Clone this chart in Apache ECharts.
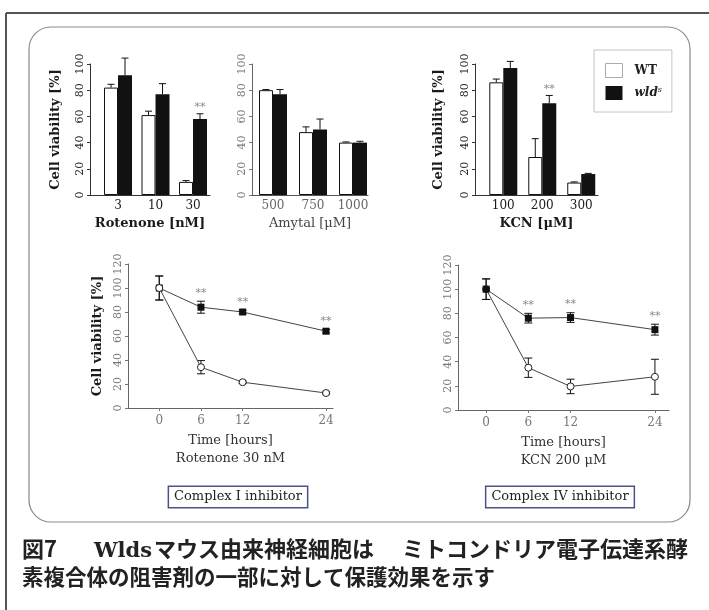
<!DOCTYPE html>
<html>
<head>
<meta charset="utf-8">
<script src="https://cdn.jsdelivr.net/npm/echarts@6/dist/echarts.min.js"></script>
<style>
  html, body { margin: 0; padding: 0; background: #ffffff; }
  #chart { width: 709px; height: 610px; }
</style>
</head>
<body>
<div id="chart"></div>
<script>
// ---- Dose-response panels (cell viability, %) ----
const rotenoneDoses = ['3', '10', '30'];
const rotenoneWT = [82, 61, 10];
const rotenoneWTErr = [2.5, 3, 1];
const rotenoneWld = [91.5, 77, 58];
const rotenoneWldErr = [13, 8, 4];
const rotenoneSig = ['', '', '**'];

const amytalDoses = ['500', '750', '1000'];
const amytalWT = [80, 48, 40];
const amytalWTErr = [0.5, 4, 0.5];
const amytalWld = [77, 50, 40];
const amytalWldErr = [3.5, 8, 1];

const kcnDoses = ['100', '200', '300'];
const kcnWT = [86, 29, 9.5];
const kcnWTErr = [2.5, 14, 0.5];
const kcnWld = [97, 70, 16];
const kcnWldErr = [5, 6, 0.5];
const kcnSig = ['', '**', ''];

// ---- Time-course panels ----
const hours = [0, 6, 12, 24];
const hourTicks = [0, 6, 12, 24];

const rotTimeWT = [100, 34, 21.5, 12.5];
const rotTimeWTErr = [10, 5.5, 1, 1];
const rotTimeWld = [100, 84, 80, 64];
const rotTimeWldErr = [10, 5, 1.5, 1.5];
const rotTimeSig = ['', '**', '**', '**'];

const kcnTimeWT = [100, 35, 19.5, 27.5];
const kcnTimeWTErr = [8.5, 8, 6, 14.5];
const kcnTimeWld = [100, 76, 76.5, 66.5];
const kcnTimeWldErr = [8.5, 4, 4, 4.5];
const kcnTimeSig = ['', '**', '**', '**'];

// ---- Caption ----
const captionHead = '図7';
const captionStrain = 'Wlds';
const captionLine1a = 'マウス由来神経細胞は';
const captionLine1b = 'ミトコンドリア電子伝達系酵';
const captionLine2 = '素複合体の阻害剤の一部に対して保護効果を示す';

const SERIF = '"DejaVu Serif", "Liberation Serif", serif';
const CJK = '"Noto Sans CJK JP", sans-serif';
const BAR_W = 14;

// category slots 1..n on a value axis so bar groups can sit off-centre in the grid
const slots = arr => arr.map((_, i) => i + 1);

function barXAxis(grid, min, max, cats, name, dark) {
  const c = dark ? '#1a1a1a' : '#666';
  return {
    gridIndex: grid, type: 'value', min: min, max: max,
    axisLine: { onZero: false, lineStyle: { color: dark ? '#333' : '#555', width: 1 } },
    axisTick: { show: false }, splitLine: { show: false },
    axisLabel: {
      customValues: slots(cats), formatter: v => cats[Math.round(v) - 1],
      color: c, fontFamily: SERIF, fontSize: 12, margin: 5
    },
    name: name, nameLocation: 'middle', nameGap: 22,
    nameTextStyle: { fontFamily: SERIF, fontSize: 13, fontWeight: dark ? 'bold' : 'normal', color: dark ? '#1a1a1a' : '#444' }
  };
}

function viabilityYAxis(grid, max, dark, withName, nameGap) {
  const ax = {
    gridIndex: grid, type: 'value', min: 0, max: max, interval: 20,
    axisLine: { show: true, onZero: false, lineStyle: { color: dark ? '#333' : '#666', width: 1 } },
    axisTick: { show: true, length: 3, lineStyle: { color: dark ? '#333' : '#777' } },
    splitLine: { show: false },
    axisLabel: { rotate: 90, color: dark ? '#222' : '#777', fontFamily: SERIF, fontSize: 11, margin: 4 }
  };
  if (withName) {
    ax.name = 'Cell viability [%]';
    ax.nameLocation = 'middle';
    ax.nameGap = nameGap;
    ax.nameTextStyle = { fontFamily: SERIF, fontSize: 13, fontWeight: 'bold', color: '#1a1a1a' };
  }
  return ax;
}

function timeXAxis(grid, min, max, subtitle) {
  return {
    gridIndex: grid, type: 'value', min: min, max: max,
    axisLine: { onZero: false, lineStyle: { color: '#666', width: 1 } },
    axisTick: { show: true, customValues: hourTicks, length: 3, lineStyle: { color: '#777' } },
    splitLine: { show: false },
    axisLabel: { customValues: hourTicks, color: '#777', fontFamily: SERIF, fontSize: 12, margin: 7 },
    name: 'Time [hours]\n' + subtitle, nameLocation: 'middle', nameGap: 24,
    nameTextStyle: { fontFamily: SERIF, fontSize: 13, color: '#333', lineHeight: 18 }
  };
}

function barSeries(name, grid, vals, isWT) {
  return {
    type: 'bar', name: name, xAxisIndex: grid, yAxisIndex: grid,
    data: vals.map((v, i) => [i + 1, v]),
    barWidth: BAR_W, barGap: '0%',
    itemStyle: isWT ? { color: '#ffffff', borderColor: '#111', borderWidth: 1 } : { color: '#111' },
    z: 2
  };
}

// error whiskers: upward only for bars, both ways for time-course points
function errorSeries(grid, xs, vals, errs, dx, both, cap) {
  return {
    type: 'custom', xAxisIndex: grid, yAxisIndex: grid, silent: true, z: both ? 1 : 3,
    data: xs.map((x, i) => [x, vals[i], errs[i]]),
    renderItem: (params, api) => {
      const x = api.value(0), y = api.value(1), e = api.value(2);
      const top = api.coord([x, y + e]);
      const base = api.coord([x, both ? y - e : y]);
      const cx = top[0] + dx;
      const st = { stroke: '#111', lineWidth: 1 };
      const kids = [
        { type: 'line', shape: { x1: cx, y1: top[1], x2: cx, y2: base[1] }, style: st },
        { type: 'line', shape: { x1: cx - cap, y1: top[1], x2: cx + cap, y2: top[1] }, style: st }
      ];
      if (both) kids.push({ type: 'line', shape: { x1: cx - cap, y1: base[1], x2: cx + cap, y2: base[1] }, style: st });
      return { type: 'group', children: kids };
    }
  };
}

// significance asterisks above the upper whisker
function sigSeries(grid, xs, vals, errs, marks, dx, lift) {
  return {
    type: 'custom', xAxisIndex: grid, yAxisIndex: grid, silent: true, z: 4,
    data: xs.map((x, i) => [x, vals[i] + errs[i], i]).filter(d => marks[d[2]]),
    renderItem: (params, api) => {
      const p = api.coord([api.value(0), api.value(1)]);
      const mark = marks[api.value(2)];
      return {
        type: 'text', x: p[0] + dx, y: p[1] - lift,
        style: { text: mark, fill: '#8a8a8a', font: '11px ' + SERIF, align: 'center', verticalAlign: 'bottom' }
      };
    }
  };
}

function lineSeries(name, grid, vals, isWT, z) {
  return {
    type: 'line', name: name, xAxisIndex: grid, yAxisIndex: grid,
    data: hours.map((h, i) => [h, vals[i]]),
    symbol: isWT ? 'circle' : 'rect', symbolSize: 7,
    lineStyle: { color: '#444', width: 1 },
    itemStyle: isWT ? { color: '#ffffff', borderColor: '#222', borderWidth: 1 } : { color: '#111' },
    z: z
  };
}

const chart = echarts.init(document.getElementById('chart'), null, { renderer: 'canvas' });

const captionFont = 'bold 22px ' + CJK;
const captionFont2 = 'bold 21.5px ' + CJK;

const option = {
  animation: false,
  backgroundColor: '#ffffff',
  grid: [
    { left: 90, top: 64, width: 120, height: 131 },
    { left: 252, top: 64, width: 116, height: 131 },
    { left: 475, top: 64, width: 123, height: 131 },
    { left: 128, top: 264, width: 205, height: 144 },
    { left: 458, top: 265, width: 211, height: 145 }
  ],
  xAxis: [
    barXAxis(0, 0.253, 3.453, rotenoneDoses, 'Rotenone [nM]', true),
    barXAxis(1, 0.475, 3.375, amytalDoses, 'Amytal [μM]', false),
    barXAxis(2, 0.274, 3.43, kcnDoses, 'KCN [μM]', true),
    timeXAxis(3, -4.5, 25, 'Rotenone 30 nM'),
    timeXAxis(4, -4, 26, 'KCN 200 μM')
  ],
  yAxis: [
    viabilityYAxis(0, 100, true, true, 28),
    viabilityYAxis(1, 100, false, false, 0),
    viabilityYAxis(2, 100, true, true, 30),
    viabilityYAxis(3, 120, false, true, 24),
    viabilityYAxis(4, 120, false, false, 0)
  ],
  legend: {
    data: [
      { name: 'WT', itemStyle: { color: '#ffffff', borderColor: '#aaa', borderWidth: 1 } },
      { name: 'wld', itemStyle: { color: '#111' } }
    ],
    orient: 'vertical', left: 594, top: 50,
    padding: [13, 10, 12, 11], itemWidth: 17, itemHeight: 14, itemGap: 8,
    icon: 'rect', borderColor: '#c4c4c4', borderWidth: 1,
    selectedMode: false,
    formatter: n => (n === 'WT' ? '{wt|WT}' : '{i|wld}{s|s}'),
    textStyle: {
      rich: {
        wt: { fontFamily: SERIF, fontWeight: 'bold', fontSize: 12, color: '#222', padding: [0, 0, 0, 7] },
        i: { fontFamily: SERIF, fontStyle: 'italic', fontWeight: 'bold', fontSize: 12, color: '#222', padding: [0, 0, 0, 7] },
        s: { fontFamily: SERIF, fontStyle: 'italic', fontSize: 8, color: '#222', verticalAlign: 'top', padding: [0, 0, 6, 0] }
      }
    }
  },
  series: [
    barSeries('WT', 0, rotenoneWT, true),
    barSeries('wld', 0, rotenoneWld, false),
    errorSeries(0, slots(rotenoneDoses), rotenoneWT, rotenoneWTErr, -BAR_W / 2, false, 3.5),
    errorSeries(0, slots(rotenoneDoses), rotenoneWld, rotenoneWldErr, BAR_W / 2, false, 3.5),
    sigSeries(0, slots(rotenoneDoses), rotenoneWld, rotenoneWldErr, rotenoneSig, BAR_W / 2, 1),

    barSeries('WT', 1, amytalWT, true),
    barSeries('wld', 1, amytalWld, false),
    errorSeries(1, slots(amytalDoses), amytalWT, amytalWTErr, -BAR_W / 2, false, 3.5),
    errorSeries(1, slots(amytalDoses), amytalWld, amytalWldErr, BAR_W / 2, false, 3.5),

    barSeries('WT', 2, kcnWT, true),
    barSeries('wld', 2, kcnWld, false),
    errorSeries(2, slots(kcnDoses), kcnWT, kcnWTErr, -BAR_W / 2, false, 3.5),
    errorSeries(2, slots(kcnDoses), kcnWld, kcnWldErr, BAR_W / 2, false, 3.5),
    sigSeries(2, slots(kcnDoses), kcnWld, kcnWldErr, kcnSig, BAR_W / 2, 1),

    errorSeries(3, hours, rotTimeWT, rotTimeWTErr, 0, true, 4),
    errorSeries(3, hours, rotTimeWld, rotTimeWldErr, 0, true, 4),
    lineSeries('wld', 3, rotTimeWld, false, 3),
    lineSeries('WT', 3, rotTimeWT, true, 4),
    sigSeries(3, hours, rotTimeWld, rotTimeWldErr, rotTimeSig, 0, 3),

    errorSeries(4, hours, kcnTimeWT, kcnTimeWTErr, 0, true, 4),
    errorSeries(4, hours, kcnTimeWld, kcnTimeWldErr, 0, true, 4),
    lineSeries('WT', 4, kcnTimeWT, true, 3),
    lineSeries('wld', 4, kcnTimeWld, false, 4),
    sigSeries(4, hours, kcnTimeWld, kcnTimeWldErr, kcnTimeSig, 0, 3)
  ],
  graphic: [
    // page frame
    { type: 'line', shape: { x1: 6, y1: 13, x2: 709, y2: 13 }, style: { stroke: '#555', lineWidth: 2 }, silent: true },
    { type: 'line', shape: { x1: 6, y1: 13, x2: 6, y2: 610 }, style: { stroke: '#555', lineWidth: 2 }, silent: true },
    // rounded panel outline
    { type: 'rect', shape: { x: 29, y: 27, width: 661, height: 495, r: 22 }, style: { fill: 'none', stroke: '#8a8a8a', lineWidth: 1.2 }, silent: true, z: -1 },
    // inhibitor tags
    {
      type: 'text', x: 238, y: 497, silent: true,
      style: { text: 'Complex I inhibitor', font: '13px ' + SERIF, fill: '#222', align: 'center', verticalAlign: 'middle',
        backgroundColor: '#fff', borderColor: '#4b5385', borderWidth: 1.5, padding: [4, 5, 3, 5] }
    },
    {
      type: 'text', x: 560, y: 497, silent: true,
      style: { text: 'Complex IV inhibitor', font: '13px ' + SERIF, fill: '#222', align: 'center', verticalAlign: 'middle',
        backgroundColor: '#fff', borderColor: '#4b5385', borderWidth: 1.5, padding: [4, 5, 3, 5] }
    },
    // figure caption
    { type: 'text', x: 22, y: 549, silent: true, style: { text: captionHead, font: captionFont, fill: '#222', verticalAlign: 'middle' } },
    { type: 'text', x: 152, y: 552, silent: true, style: { text: captionStrain, font: 'bold 21px ' + SERIF, fill: '#222', align: 'right', verticalAlign: 'middle' } },
    { type: 'text', x: 374, y: 549, silent: true, style: { text: captionLine1a, font: captionFont, fill: '#222', align: 'right', verticalAlign: 'middle' } },
    { type: 'text', x: 688, y: 549, silent: true, style: { text: captionLine1b, font: captionFont, fill: '#222', align: 'right', verticalAlign: 'middle' } },
    { type: 'text', x: 22, y: 577, silent: true, style: { text: captionLine2, font: captionFont2, fill: '#222', verticalAlign: 'middle' } }
  ]
};

chart.setOption(option);
</script>
</body>
</html>
